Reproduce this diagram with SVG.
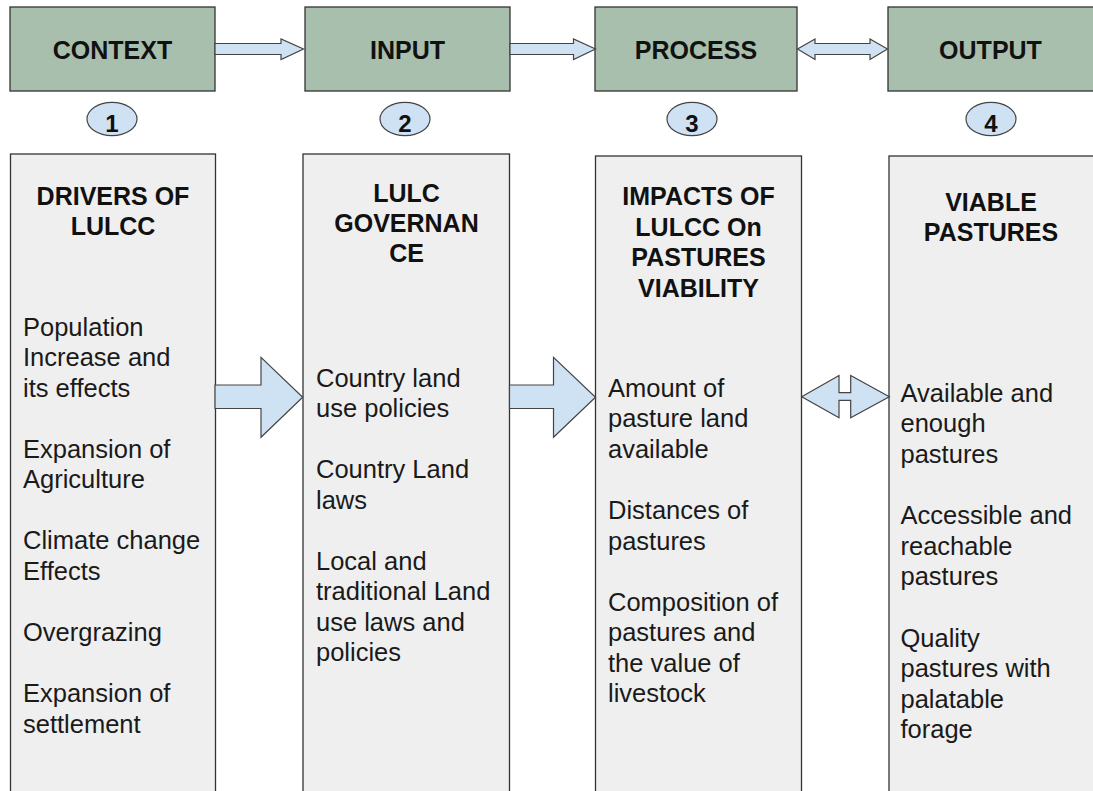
<svg xmlns="http://www.w3.org/2000/svg" width="1093" height="791" viewBox="0 0 1093 791">
  <style>
    .stage { fill: #a8bfae; stroke: #333; stroke-width: 1.3; }
    .panel { fill: #efefef; stroke: #333; stroke-width: 1.3; }
    .arrow { fill: #cfe2f3; stroke: #444; stroke-width: 1.2; stroke-linejoin: miter; }
    .badge { fill: #cfe2f3; stroke: #444; stroke-width: 1.2; }
    .title { font-family: "Liberation Sans", Arial, sans-serif; font-weight: bold; font-size: 25px; fill: #111; text-anchor: middle; }
    .num { font-family: "Liberation Sans", Arial, sans-serif; font-weight: bold; font-size: 24px; fill: #111; text-anchor: middle; }
    .body { font-family: "Liberation Sans", Arial, sans-serif; font-size: 25.5px; fill: #1a1a1a; }
  </style>

  <rect width="1093" height="791" fill="#ffffff"/>

  <!-- stage headers -->
  <g id="context">
    <rect class="stage" x="10" y="7" width="205" height="84"/>
    <text class="title" x="112.5" y="59">CONTEXT</text>
  </g>
  <g id="input">
    <rect class="stage" x="305" y="7" width="205" height="84"/>
    <text class="title" x="407.5" y="59">INPUT</text>
  </g>
  <g id="process">
    <rect class="stage" x="595" y="7" width="202" height="84"/>
    <text class="title" x="696" y="59">PROCESS</text>
  </g>
  <g id="output">
    <rect class="stage" x="888" y="7" width="215" height="84"/>
    <text class="title" x="990.5" y="59">OUTPUT</text>
  </g>

  <!-- numbered badges -->
  <g id="badge-1">
    <ellipse class="badge" cx="112" cy="119" rx="25" ry="16.7"/>
    <text class="num" x="112" y="131.5">1</text>
  </g>
  <g id="badge-2">
    <ellipse class="badge" cx="405" cy="119" rx="25" ry="16.7"/>
    <text class="num" x="405" y="131.5">2</text>
  </g>
  <g id="badge-3">
    <ellipse class="badge" cx="692" cy="119" rx="25" ry="16.7"/>
    <text class="num" x="692" y="131.5">3</text>
  </g>
  <g id="badge-4">
    <ellipse class="badge" cx="991" cy="119" rx="25" ry="16.7"/>
    <text class="num" x="991" y="131.5">4</text>
  </g>

  <!-- detail panels -->
  <g id="drivers">
    <rect class="panel" x="10.5" y="154" width="205" height="660"/>
    <text class="title" x="113" y="205">DRIVERS OF<tspan x="113" dy="30">LULCC</tspan></text>
    <text class="body" x="23" y="335.5">
      <tspan x="23">Population</tspan>
      <tspan x="23" dy="30.55">Increase and</tspan>
      <tspan x="23" dy="30.55">its effects</tspan>
      <tspan x="23" dy="61.1">Expansion of</tspan>
      <tspan x="23" dy="30.55">Agriculture</tspan>
      <tspan x="23" dy="61.1">Climate change</tspan>
      <tspan x="23" dy="30.55">Effects</tspan>
      <tspan x="23" dy="61.1">Overgrazing</tspan>
      <tspan x="23" dy="61.1">Expansion of</tspan>
      <tspan x="23" dy="30.55">settlement</tspan>
    </text>
  </g>
  <g id="governance">
    <rect class="panel" x="303" y="154" width="206.5" height="660"/>
    <text class="title" x="406.5" y="201.5">LULC<tspan x="406.5" dy="30">GOVERNAN</tspan><tspan x="406.5" dy="30">CE</tspan></text>
    <text class="body" x="316" y="386.8">
      <tspan x="316">Country land</tspan>
      <tspan x="316" dy="30.5">use policies</tspan>
      <tspan x="316" dy="61">Country Land</tspan>
      <tspan x="316" dy="30.5">laws</tspan>
      <tspan x="316" dy="61">Local and</tspan>
      <tspan x="316" dy="30.5">traditional Land</tspan>
      <tspan x="316" dy="30.5">use laws and</tspan>
      <tspan x="316" dy="30.5">policies</tspan>
    </text>
  </g>
  <g id="impacts">
    <rect class="panel" x="595.5" y="156" width="206" height="660"/>
    <text class="title" x="698.5" y="205">IMPACTS OF<tspan x="698.5" dy="30.5">LULCC On</tspan><tspan x="698.5" dy="30.5">PASTURES</tspan><tspan x="698.5" dy="30.5">VIABILITY</tspan></text>
    <text class="body" x="608" y="396.7">
      <tspan x="608">Amount of</tspan>
      <tspan x="608" dy="30.56">pasture land</tspan>
      <tspan x="608" dy="30.56">available</tspan>
      <tspan x="608" dy="61.12">Distances of</tspan>
      <tspan x="608" dy="30.56">pastures</tspan>
      <tspan x="608" dy="61.12">Composition of</tspan>
      <tspan x="608" dy="30.56">pastures and</tspan>
      <tspan x="608" dy="30.56">the value of</tspan>
      <tspan x="608" dy="30.56">livestock</tspan>
    </text>
  </g>
  <g id="viable-pastures">
    <rect class="panel" x="889" y="156" width="215" height="660"/>
    <text class="title" x="991" y="210.5">VIABLE<tspan x="991" dy="30.3">PASTURES</tspan></text>
    <text class="body" x="900.5" y="401.7">
      <tspan x="900.5">Available and</tspan>
      <tspan x="900.5" dy="30.6">enough</tspan>
      <tspan x="900.5" dy="30.6">pastures</tspan>
      <tspan x="900.5" dy="61.2">Accessible and</tspan>
      <tspan x="900.5" dy="30.6">reachable</tspan>
      <tspan x="900.5" dy="30.6">pastures</tspan>
      <tspan x="900.5" dy="61.2">Quality</tspan>
      <tspan x="900.5" dy="30.6">pastures with</tspan>
      <tspan x="900.5" dy="30.6">palatable</tspan>
      <tspan x="900.5" dy="30.6">forage</tspan>
    </text>
  </g>

  <!-- block arrows between stages and panels -->
  <g id="connectors">
    <!-- header row -->
    <path class="arrow" d="M215,43.5 H281 V39 L303.5,49 L281,59.5 V54.5 H215 Z"/>
    <path class="arrow" d="M510,43.5 H573.5 V39 L595.5,49 L573.5,59.5 V54.5 H510 Z"/>
    <path class="arrow" d="M797.5,49 L815,39 V43.5 H870 V39 L887.5,49 L870,59.5 V54.5 H815 V59.5 Z"/>
    <!-- panel row -->
    <path class="arrow" d="M215,385 H261 V357.3 L302.7,397.3 L261,437.3 V408.5 H215 Z"/>
    <path class="arrow" d="M509.5,385 H553.5 V357.3 L595.5,397.3 L553.5,437.3 V408.5 H509.5 Z"/>
    <path class="arrow" d="M801.7,396.7 L839,375.5 V392.7 H850.7 V375.5 L889.3,396.7 L850.7,417.8 V400.3 H839 V417.8 Z"/>
  </g>
</svg>
